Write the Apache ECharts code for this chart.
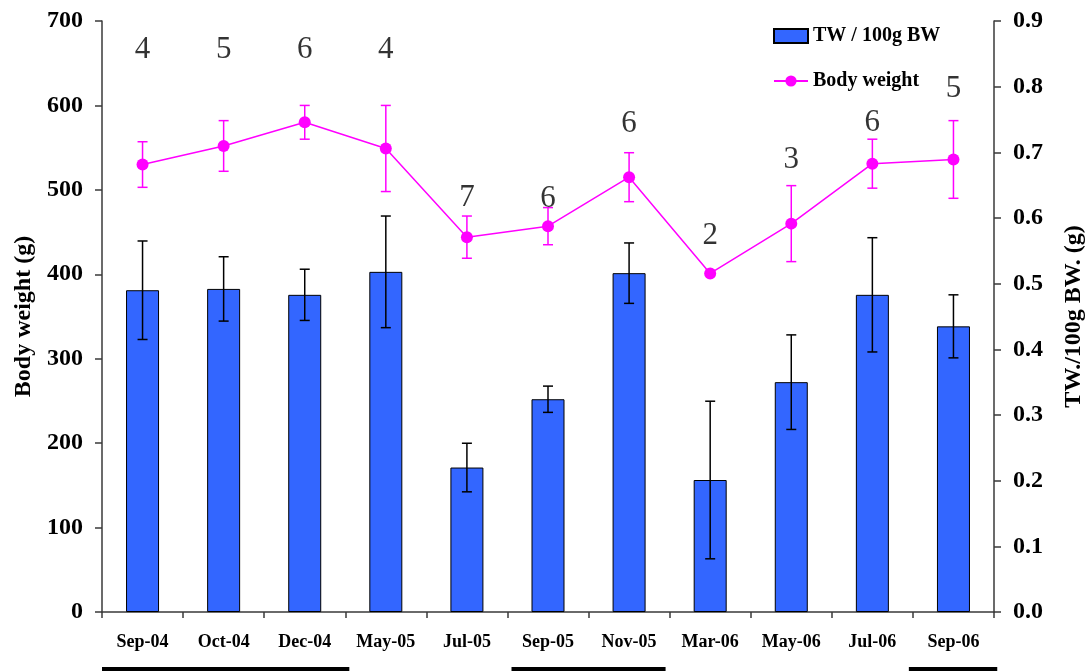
<!DOCTYPE html>
<html>
<head>
<meta charset="utf-8">
<script src="https://cdn.jsdelivr.net/npm/echarts@6/dist/echarts.min.js"></script>
<style>
  html, body { margin: 0; padding: 0; background: #fff; }
  #chart { width: 1090px; height: 671px; }
</style>
</head>
<body>
<div id="chart"></div>
<script>
// Sampling dates
const categories = ['Sep-04', 'Oct-04', 'Dec-04', 'May-05', 'Jul-05', 'Sep-05', 'Nov-05', 'Mar-06', 'May-06', 'Jul-06', 'Sep-06'];
// Testis weight per 100 g body weight (right axis) and its SE
const twPer100gBW = [0.490, 0.492, 0.483, 0.518, 0.220, 0.324, 0.516, 0.201, 0.350, 0.483, 0.435];
const twSE = [0.075, 0.049, 0.039, 0.085, 0.037, 0.020, 0.046, 0.120, 0.072, 0.087, 0.048];
// Body weight in g (left axis) and its SE
const bodyWeight = [530, 552, 580, 549, 444, 457, 515, 401, 460, 531, 536];
const bodyWeightSE = [27, 30, 20, 51, 25, 22, 29, 0, 45, 29, 46];
// Number of animals per sample, and the body-weight level its label sits at
const sampleSize = [4, 5, 6, 4, 7, 6, 6, 2, 3, 6, 5];
const sampleSizeLevel = [666, 666, 666, 666, 491, 489, 578, 446, 535, 579, 620];
// Periods marked under the date axis, in category units
const seasonSpans = [[0, 3.05], [5.05, 6.95], [9.95, 11.04]];

const FONT = 'Liberation Serif';

function errorBarRenderer(color, capHalf) {
  return function (params, api) {
    const x = api.value(0);
    const lo = api.value(1);
    const hi = api.value(2);
    if (hi === lo) return null;
    const top = api.coord([x, hi]);
    const bot = api.coord([x, lo]);
    const style = { stroke: color, lineWidth: 1.5 };
    return {
      type: 'group',
      children: [
        { type: 'line', shape: { x1: top[0], y1: top[1], x2: bot[0], y2: bot[1] }, style: style },
        { type: 'line', shape: { x1: top[0] - capHalf, y1: top[1], x2: top[0] + capHalf, y2: top[1] }, style: style },
        { type: 'line', shape: { x1: bot[0] - capHalf, y1: bot[1], x2: bot[0] + capHalf, y2: bot[1] }, style: style }
      ]
    };
  };
}

const twErrData = twPer100gBW.map((v, i) => [i, v - twSE[i], v + twSE[i]]);
const bwErrData = bodyWeight.map((v, i) => [i, v - bodyWeightSE[i], v + bodyWeightSE[i]]);
const nLabelData = sampleSize.map((n, i) => [i, sampleSizeLevel[i], n]);

const axisLineStyle = { color: '#3a3a3a', width: 1.5 };

const chart = echarts.init(document.getElementById('chart'));
chart.setOption({
  animation: false,
  backgroundColor: '#fff',
  grid: { left: 102, right: 96, top: 21, bottom: 59, containLabel: false, outerBoundsMode: 'none' },
  legend: {
    orient: 'vertical',
    left: 768,
    top: 21,
    itemWidth: 34,
    itemHeight: 14,
    itemGap: 25,
    data: [{ name: 'TW / 100g BW', icon: 'rect' }, { name: 'Body weight' }],
    textStyle: { fontFamily: FONT, fontWeight: 'bold', fontSize: 20, color: '#000' }
  },
  xAxis: {
    type: 'category',
    data: categories,
    axisLine: { lineStyle: axisLineStyle },
    axisTick: { show: true, length: 6, lineStyle: axisLineStyle },
    axisLabel: { fontFamily: FONT, fontWeight: 'bold', fontSize: 18, color: '#000', margin: 21 },
    splitLine: { show: false }
  },
  yAxis: [
    {
      type: 'value',
      min: 0, max: 700, interval: 100,
      name: 'Body weight (g)',
      nameLocation: 'middle',
      nameGap: 65,
      nameTextStyle: { fontFamily: FONT, fontWeight: 'bold', fontSize: 24, color: '#000' },
      axisLine: { show: true, lineStyle: axisLineStyle },
      axisTick: { show: true, length: 7, lineStyle: axisLineStyle },
      axisLabel: { fontFamily: FONT, fontWeight: 'bold', fontSize: 24, color: '#000', margin: 19 },
      splitLine: { show: false }
    },
    {
      type: 'value',
      min: 0, max: 0.9, interval: 0.1,
      position: 'right',
      name: 'TW./100g BW. (g)',
      nameLocation: 'middle',
      nameGap: 68,
      nameRotate: 90,
      nameTextStyle: { fontFamily: FONT, fontWeight: 'bold', fontSize: 24, color: '#000' },
      axisLine: { show: true, lineStyle: axisLineStyle },
      axisTick: { show: true, length: 7, lineStyle: axisLineStyle },
      axisLabel: {
        fontFamily: FONT, fontWeight: 'bold', fontSize: 24, color: '#000', margin: 19,
        formatter: v => v.toFixed(1)
      },
      splitLine: { show: false }
    }
  ],
  series: [
    {
      name: 'TW / 100g BW',
      type: 'bar',
      yAxisIndex: 1,
      barWidth: 33,
      data: twPer100gBW,
      itemStyle: { color: '#3366FF', borderColor: '#000', borderWidth: 1 },
      z: 2
    },
    {
      name: 'twError',
      type: 'custom',
      yAxisIndex: 1,
      renderItem: errorBarRenderer('#000', 5),
      encode: { x: 0, y: [1, 2] },
      data: twErrData,
      z: 3,
      silent: true
    },
    {
      name: 'bwError',
      type: 'custom',
      yAxisIndex: 0,
      renderItem: errorBarRenderer('#FF00FF', 5),
      encode: { x: 0, y: [1, 2] },
      data: bwErrData,
      z: 4,
      silent: true
    },
    {
      name: 'Body weight',
      type: 'line',
      yAxisIndex: 0,
      data: bodyWeight,
      symbol: 'circle',
      symbolSize: 12,
      itemStyle: { color: '#FF00FF' },
      lineStyle: { color: '#FF00FF', width: 1.5 },
      z: 5
    },
    {
      name: 'n',
      type: 'scatter',
      yAxisIndex: 0,
      data: nLabelData,
      symbolSize: 0,
      encode: { x: 0, y: 1 },
      label: {
        show: true,
        position: 'inside',
        formatter: p => String(p.value[2]),
        fontFamily: FONT,
        fontSize: 31,
        color: '#000'
      },
      silent: true,
      z: 6
    }
  ]
});

// Black period markers drawn under the date labels, placed via the category axis
function drawSeasonBars() {
  const c0 = chart.convertToPixel({ xAxisIndex: 0 }, categories[0]);
  const c1 = chart.convertToPixel({ xAxisIndex: 0 }, categories[1]);
  const step = c1 - c0;
  const start = c0 - step / 2;
  const rects = seasonSpans.map(s => ({
    type: 'rect',
    shape: { x: start + s[0] * step, y: 667, width: (s[1] - s[0]) * step, height: 4 },
    style: { fill: '#000' },
    silent: true
  }));
  chart.setOption({ graphic: rects });
}
drawSeasonBars();
</script>
</body>
</html>
